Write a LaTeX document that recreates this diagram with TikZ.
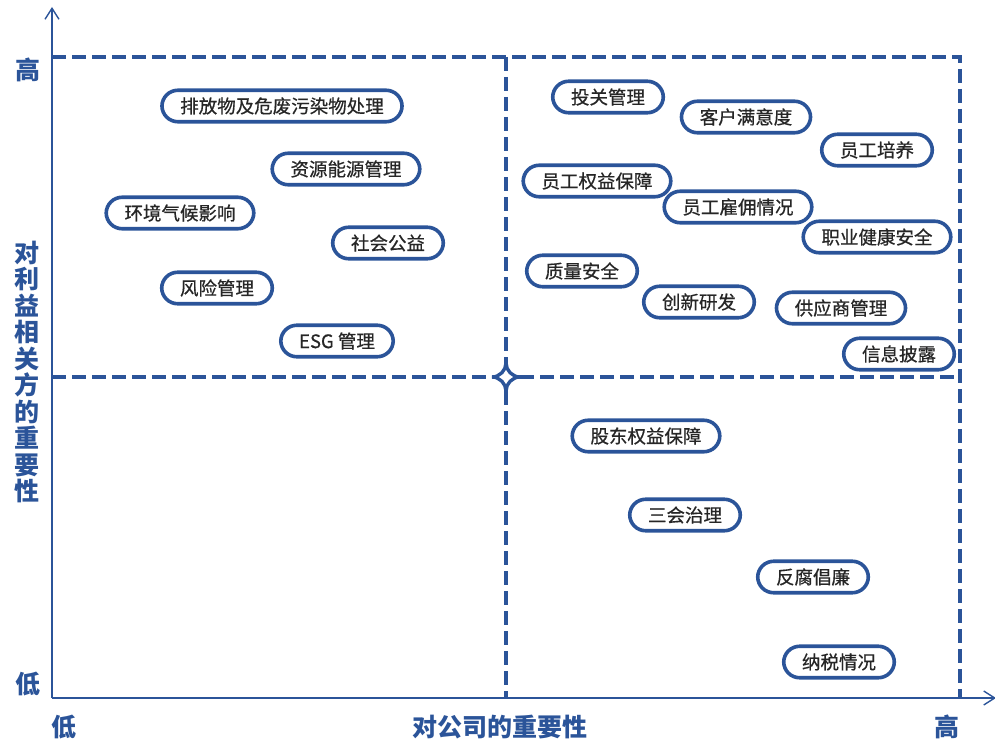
\documentclass[tikz,border=0pt]{standalone}
\usepackage{fontspec}
\setmainfont{Noto Sans CJK SC}
\newfontfamily\pillfont{Noto Sans CJK SC}[RawFeature={embolden=0.6}]
\usetikzlibrary{arrows.meta}
\definecolor{mainblue}{RGB}{43,84,153}

\begin{document}
\begin{tikzpicture}[x=1pt,y=-1pt,
  axis/.style={draw=mainblue, line width=2.6pt, -{Straight Barb[length=11pt,width=14pt,line width=1.4pt]}},
  grid/.style={draw=mainblue, line width=4pt, dash pattern=on 14pt off 6pt},
  gridarc/.style={draw=mainblue, line width=3.4pt},
  pill/.style={draw=mainblue, line width=3.6pt, rounded corners=16pt, fill=white,
    minimum height=31.5pt, inner xsep=18.3pt, inner ysep=0pt, text=black!85,
    font=\pillfont\fontsize{18.5}{20}\selectfont},
  axislabel/.style={text=mainblue, font=\fontsize{25}{26.5}\selectfont\bfseries, inner sep=0pt}]
\useasboundingbox (0,0) rectangle (995,741);
% axes
\coordinate (O) at (52,698);
\coordinate (ytop) at (52,7);
\coordinate (xend) at (996,698);
\draw[axis] (O) -- (ytop);
\draw[axis] (O) -- (xend);
% quadrant lines
\draw[grid] (52,57) -- (960,57) -- (960,698);
\draw[grid] (506,57) -- (506,363);
\draw[grid] (506,391) -- (506,698);
\draw[grid] (52,377) -- (492,377);
\draw[grid] (520,377) -- (960,377);
\draw[gridarc] (492,377) .. controls (499.7,377) and (506,370.3) .. (506,363);
\draw[gridarc] (520,377) .. controls (512.3,377) and (506,370.3) .. (506,363);
\draw[gridarc] (492,377) .. controls (499.7,377) and (506,383.7) .. (506,391);
\draw[gridarc] (520,377) .. controls (512.3,377) and (506,383.7) .. (506,391);
% axis labels
\node[axislabel] (yhigh) at (28,70) {高};
\node[axislabel] (ylow) at (28,684) {低};
\node[axislabel] (xlow) at (64,727) {低};
\node[axislabel] (xhigh) at (947,727) {高};
\node[axislabel] (xname) at (500,727) {对公司的重要性};
\node[axislabel, align=center] (yname) at (27,372) {对\\利\\益\\相\\关\\方\\的\\重\\要\\性};
% upper left
\node[pill] (emis) at (282,106) {排放物及危废污染物处理};
\node[pill] (res) at (346,169) {资源能源管理};
\node[pill] (clim) at (180,213) {环境气候影响};
\node[pill] (welf) at (388,243) {社会公益};
\node[pill] (risk) at (217,288) {风险管理};
\node[pill] (esg) at (337,341) {ESG 管理};
% upper right
\node[pill] (ir) at (608,97) {投关管理};
\node[pill] (cust) at (746,117) {客户满意度};
\node[pill] (train) at (877,150) {员工培养};
\node[pill] (rights) at (597,181) {员工权益保障};
\node[pill] (hire) at (738,207) {员工雇佣情况};
\node[pill] (ohs) at (877,237) {职业健康安全};
\node[pill] (qual) at (582,271) {质量安全};
\node[pill] (innov) at (699,302) {创新研发};
\node[pill] (supp) at (841,308) {供应商管理};
\node[pill] (disc) at (899,354) {信息披露};
% lower right
\node[pill] (share) at (646,436) {股东权益保障};
\node[pill] (gov) at (685,515) {三会治理};
\node[pill] (anti) at (813,577) {反腐倡廉};
\node[pill] (tax) at (839,662) {纳税情况};
\end{tikzpicture}
\end{document}
